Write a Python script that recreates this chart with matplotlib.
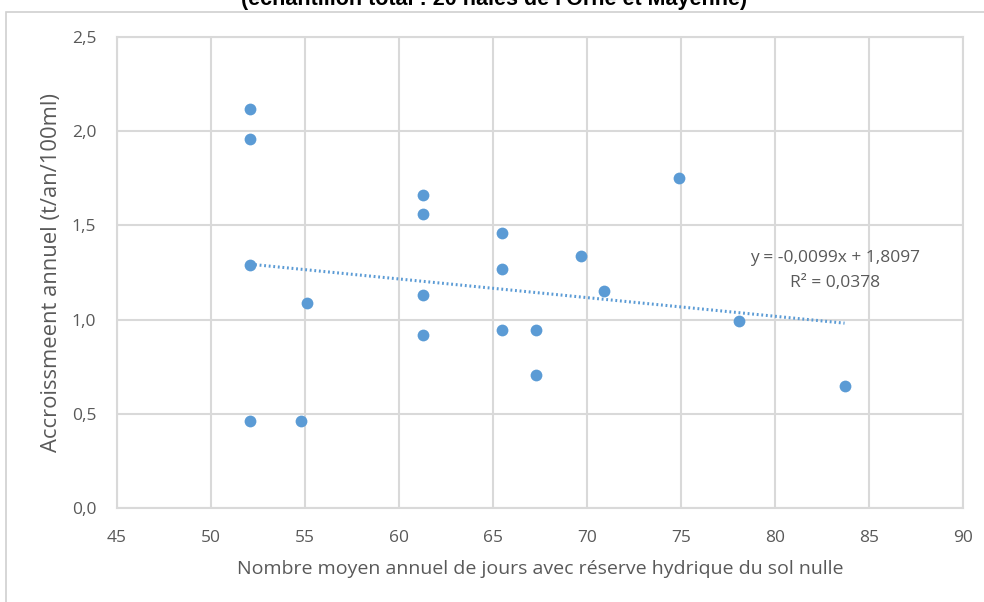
import matplotlib
matplotlib.use("Agg")
import matplotlib.pyplot as plt
import matplotlib.ticker as mticker
from matplotlib.patches import Rectangle
import numpy as np

# ── Data ──────────────────────────────────────────────────────────────────────
jours_nuls = [52.1, 52.1, 52.1, 52.1, 54.8, 55.1, 61.3, 61.3, 61.3, 61.3,
              65.5, 65.5, 65.5, 67.3, 67.3, 69.7, 70.9, 74.9, 78.1, 83.7]
accroissement = [2.12, 1.96, 1.29, 0.46, 0.46, 1.09, 1.66, 1.56, 1.13, 0.92,
                 1.46, 1.27, 0.945, 0.945, 0.705, 1.34, 1.15, 1.75, 0.99, 0.645]
trend_slope = -0.0099
trend_intercept = 1.8097
trend_r2 = 0.0378
x_ticks = [45, 50, 55, 60, 65, 70, 75, 80, 85, 90]
y_ticks = [0.0, 0.5, 1.0, 1.5, 2.0, 2.5]

# ── Style ─────────────────────────────────────────────────────────────────────
POINT_COLOR = "#5B9BD5"
GRID_COLOR = "#D9D9D9"
TEXT_COLOR = "#595959"
FONT = ["Open Sans", "DejaVu Sans"]

plt.rcParams["font.family"] = FONT

W, H = 984, 602
fig = plt.figure(figsize=(W / 100, H / 100), dpi=100)
fig.patch.set_facecolor("white")

# chart frame (partially visible, Excel-style)
fig.add_artist(Rectangle((6 / W, -0.05), 1.1, (H - 12) / H + 0.05,
                         transform=fig.transFigure, fill=False,
                         edgecolor="#D0D0D0", linewidth=1.2))

ax = fig.add_axes([117 / W, 1 - 508 / H, (963 - 117) / W, (508 - 37) / H])

ax.scatter(jours_nuls, accroissement, s=72, color=POINT_COLOR, zorder=4,
           linewidths=0)

x_fit = np.array([min(jours_nuls), max(jours_nuls)])
ax.plot(x_fit, trend_slope * x_fit + trend_intercept, color=POINT_COLOR,
        linewidth=2.2, linestyle=(0, (0.6, 0.9)), zorder=3)

ax.set_xlim(45, 90)
ax.set_ylim(0, 2.5)
ax.set_xticks(x_ticks)
ax.set_yticks(y_ticks)
ax.yaxis.set_major_formatter(mticker.FuncFormatter(lambda v, _: f"{v:.1f}".replace(".", ",")))
ax.grid(color=GRID_COLOR, linewidth=1.5)
ax.set_axisbelow(True)
for side in ax.spines.values():
    side.set_color(GRID_COLOR)
    side.set_linewidth(1.5)
ax.tick_params(length=0, colors=TEXT_COLOR, labelsize=12.5)
ax.tick_params(axis="y", pad=15)
ax.tick_params(axis="x", pad=16)

ax.set_xlabel("Nombre moyen annuel de jours avec réserve hydrique du sol nulle",
              fontsize=14, color=TEXT_COLOR, labelpad=10)
ax.set_ylabel("Accroissmeent annuel (t/an/100ml)", fontsize=15.8,
              color=TEXT_COLOR)
ax.yaxis.set_label_coords((62 - 117) / 846, 0.5)

eq = f"y = {trend_slope:.4f}x + {trend_intercept:.4f}".replace(".", ",")
r2 = f"R² = {trend_r2:.4f}".replace(".", ",")
fig.text(835 / W, 1 - 258 / H, eq, ha="center", va="center",
         fontsize=12.5, color=TEXT_COLOR)
fig.text(835 / W, 1 - 283 / H, r2, ha="center", va="center",
         fontsize=12.5, color=TEXT_COLOR)

# title cut off at the top edge
fig.text(494 / W, 1 - 5 / H, "(échantillon total : 20 haies de l'Orne et Mayenne)",
         ha="center", va="baseline", fontsize=15.5, fontweight="bold",
         family=["Liberation Sans", "DejaVu Sans"], color="black")

fig.savefig("out.png", dpi=100, facecolor="white")
